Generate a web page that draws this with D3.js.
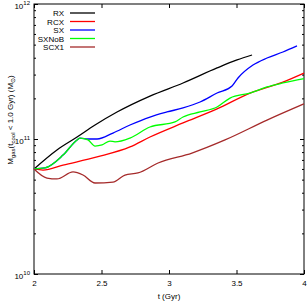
<!DOCTYPE html>
<html lang="en">
<head>
  <meta charset="UTF-8">
  <title>Mgas tcool</title>
  <script src="https://cdn.jsdelivr.net/npm/d3@7"></script>
  <style>
    body { margin: 0; background: #fff; }
    svg { display: block; font-family: "Liberation Sans", Arial, sans-serif; }
    .axis path { stroke: none; }
    .axis line { stroke: #000; stroke-width: 1; }
    .axis text { fill: #000; font-size: 8px; }
  </style>
</head>
<body>
  <div id="chart"></div>
  <script>
    // values (mass in Msun, time in Gyr)
    const rxT = [2, 2.17, 2.319, 2.452, 2.615, 2.859, 3.104, 3.356, 3.504, 3.615];
    const rxM = [6.0e10, 8.3e10, 1.035e11, 1.27e11, 1.585e11, 2.08e11, 2.6e11, 3.36e11, 3.85e11, 4.19e11];

    const rcxT = [2, 2.067, 2.215, 2.467, 2.711, 2.859, 3.104, 3.356, 3.6, 3.844, 4.0];
    const rcxM = [6.0e10, 5.89e10, 6.41e10, 7.36e10, 8.73e10, 1.035e11, 1.315e11, 1.67e11, 2.19e11, 2.64e11, 3.08e11];

    const sxT = [2, 2.081, 2.215, 2.319, 2.341, 2.4, 2.467, 2.585, 2.711, 2.859, 2.985, 3.104, 3.23, 3.356, 3.467, 3.511, 3.622, 3.726, 3.844, 3.948];
    const sxM = [6.0e10, 6.1e10, 7.6e10, 9.84e10, 1.016e11, 1.0e11, 1.0e11, 1.107e11, 1.27e11, 1.455e11, 1.585e11, 1.70e11, 1.88e11, 2.19e11, 2.47e11, 2.83e11, 3.53e11, 3.98e11, 4.41e11, 4.89e11];

    const sxnobT = [2, 2.081, 2.215, 2.319, 2.341, 2.4, 2.452, 2.504, 2.563, 2.6, 2.711, 2.859, 3.044, 3.104, 3.23, 3.356, 3.452, 3.6, 3.726, 3.844, 4.0];
    const sxnobM = [6.0e10, 6.1e10, 7.6e10, 9.84e10, 1.016e11, 9.84e10, 8.87e10, 9.04e10, 9.66e10, 9.51e10, 1.016e11, 1.227e11, 1.337e11, 1.455e11, 1.585e11, 1.726e11, 2.01e11, 2.19e11, 2.43e11, 2.60e11, 2.80e11];

    const scx1T = [2, 2.096, 2.17, 2.289, 2.363, 2.452, 2.585, 2.674, 2.77, 2.919, 3.17, 3.415, 3.726, 4.0];
    const scx1M = [6.0e10, 5.14e10, 5.06e10, 5.70e10, 5.41e10, 4.72e10, 4.80e10, 5.41e10, 5.60e10, 6.64e10, 7.87e10, 9.84e10, 1.38e11, 1.82e11];

    const seriesNames = ["RX", "RCX", "SX", "SXNoB", "SCX1"];
    const seriesColors = ["#000000", "#ff0000", "#0000ff", "#00ff00", "#a52a2a"];
    const xTicks = [2, 2.5, 3, 3.5, 4];
    const xTickLabels = ["2", "2.5", "3", "3.5", "4"];
    const yMajor = [1e10, 1e11, 1e12];
    const yExp = ["10", "11", "12"];

    const series = [
      [rxT, rxM], [rcxT, rcxM], [sxT, sxM], [sxnobT, sxnobM], [scx1T, scx1M]
    ];

    const W = 307, H = 301;
    const m = { left: 34, right: 3, top: 4, bottom: 27 };

    const svg = d3.select("#chart").append("svg")
      .attr("width", W).attr("height", H);

    const x = d3.scaleLinear().domain([2, 4]).range([m.left, W - m.right]);
    const y = d3.scaleLog().domain([1e10, 1e12]).range([H - m.bottom, m.top]);

    const yMinor = [];
    [1e10, 1e11].forEach(d => { for (let k = 2; k <= 9; k++) yMinor.push(d * k); });

    // bottom axis with labels
    svg.append("g").attr("class", "axis")
      .attr("transform", `translate(0,${H - m.bottom})`)
      .call(d3.axisBottom(x).tickValues(xTicks).tickSize(-4).tickPadding(6)
        .tickFormat((d, i) => xTickLabels[i]));

    // top axis (ticks only)
    svg.append("g").attr("class", "axis")
      .attr("transform", `translate(0,${m.top})`)
      .call(d3.axisTop(x).tickValues(xTicks).tickSize(-4).tickFormat(""));

    // left axis, major
    const yl = svg.append("g").attr("class", "axis")
      .attr("transform", `translate(${m.left},0)`)
      .call(d3.axisLeft(y).tickValues(yMajor).tickSize(-4).tickFormat(""));
    yl.selectAll(".tick").append("text")
      .attr("x", -4).attr("y", 4).attr("text-anchor", "end")
      .each(function(d, i) {
        const t = d3.select(this);
        t.append("tspan").text("10");
        t.append("tspan").attr("dy", -4).attr("font-size", "6px").text(yExp[i]);
      });
    // left axis, minor
    svg.append("g").attr("class", "axis")
      .attr("transform", `translate(${m.left},0)`)
      .call(d3.axisLeft(y).tickValues(yMinor).tickSize(-2).tickFormat(""));

    // right axis
    svg.append("g").attr("class", "axis")
      .attr("transform", `translate(${W - m.right},0)`)
      .call(d3.axisRight(y).tickValues(yMajor).tickSize(-4).tickFormat(""));
    svg.append("g").attr("class", "axis")
      .attr("transform", `translate(${W - m.right},0)`)
      .call(d3.axisRight(y).tickValues(yMinor).tickSize(-2).tickFormat(""));

    // frame
    svg.append("rect")
      .attr("x", m.left).attr("y", m.top)
      .attr("width", W - m.left - m.right).attr("height", H - m.top - m.bottom)
      .attr("fill", "none").attr("stroke", "#000").attr("stroke-width", 1);

    // lines
    const line = d3.line()
      .x(d => x(d[0])).y(d => y(d[1]))
      .curve(d3.curveMonotoneX);

    series.forEach((s, i) => {
      const pts = s[0].map((t, j) => [t, s[1][j]]);
      svg.append("path")
        .datum(pts)
        .attr("fill", "none")
        .attr("stroke", seriesColors[i])
        .attr("stroke-width", 1.3)
        .attr("d", line);
    });

    // legend
    const lg = svg.append("g").attr("font-size", "8px");
    seriesNames.forEach((name, i) => {
      const yy = 13 + i * 8.5;
      lg.append("text").attr("x", 64).attr("y", yy + 3)
        .attr("text-anchor", "end").text(name);
      lg.append("line").attr("x1", 70).attr("x2", 95)
        .attr("y1", yy).attr("y2", yy)
        .attr("stroke", seriesColors[i]).attr("stroke-width", 1.3);
    });

    // axis titles
    svg.append("text")
      .attr("x", (m.left + W - m.right) / 2).attr("y", 299)
      .attr("text-anchor", "middle").attr("font-size", "8px")
      .text("t (Gyr)");

    const yt = svg.append("text")
      .attr("transform", "translate(13,120) rotate(-90)")
      .attr("text-anchor", "middle").attr("font-size", "8px");
    yt.append("tspan").text("M");
    yt.append("tspan").attr("font-size", "6px").attr("dy", 2).text("gas");
    yt.append("tspan").attr("dy", -2).text("(t");
    yt.append("tspan").attr("font-size", "6px").attr("dy", 2).text("cool");
    yt.append("tspan").attr("dy", -2).text(" < 1.0 Gyr) (M");
    yt.append("tspan").attr("font-size", "6px").attr("dy", 2).text("⊙");
    yt.append("tspan").attr("dy", -2).text(")");
  </script>
</body>
</html>
